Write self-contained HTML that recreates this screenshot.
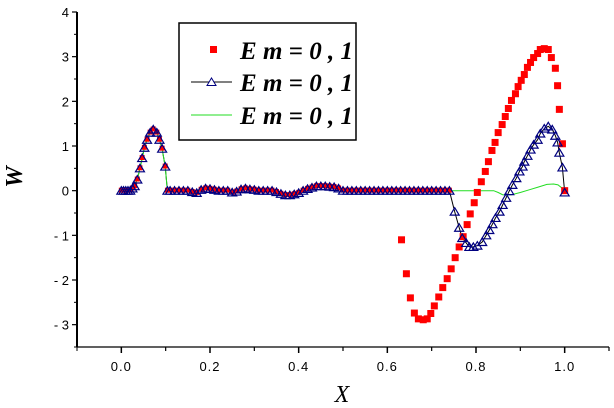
<!DOCTYPE html>
<html><head><meta charset="utf-8">
<style>
html,body{margin:0;padding:0;background:#fff;}
svg{display:block;}
.tk{font-family:"Liberation Sans",sans-serif;font-size:13px;fill:#000;}
.lg{font-family:"Liberation Serif",serif;font-style:italic;font-weight:bold;font-size:25px;fill:#000;}
</style></head>
<body>
<svg id="chart" width="614" height="408" viewBox="0 0 614 408" xmlns="http://www.w3.org/2000/svg">
<g id="axes"></g>
<g id="series"></g>
<g id="legend">
  <rect x="179" y="23" width="177" height="117" fill="#fff" stroke="#000" stroke-width="1.5"/>
  <rect x="210" y="46" width="7" height="7" fill="#ff0000"/>
  <text class="lg" x="240" y="59" textLength="113">E m = 0 , 1</text>
  <line x1="191" y1="82" x2="232" y2="82" stroke="#000" stroke-width="1"/>
  <polygon points="207,85.5 211.5,78 216,85.5" fill="#fff" stroke="#000080" stroke-width="1"/>
  <text class="lg" x="240" y="91" textLength="113">E m = 0 , 1</text>
  <line x1="191" y1="115" x2="232" y2="115" stroke="#22dd22" stroke-width="1"/>
  <text class="lg" x="240" y="124" textLength="113">E m = 0 , 1</text>
</g>
<text x="342" y="402" font-family="Liberation Serif,serif" font-style="italic" font-size="24" text-anchor="middle">X</text>
<text transform="translate(22,177) rotate(-90)" font-family="Liberation Serif,serif" font-style="italic" font-weight="bold" font-size="24" text-anchor="middle">W</text>
</svg>
<script>
const xTicks=[0.0,0.2,0.4,0.6,0.8,1.0];
const xTickLabels=["0.0","0.2","0.4","0.6","0.8","1.0"];
const yTicks=[4,3,2,1,0,-1,-2,-3];
const yTickLabels=["4","3","2","1","0","- 1","- 2","- 3"];
const sharedX=[0,0.005,0.01,0.015,0.02,0.025,0.03,0.036,0.042,0.047,0.052,0.058,0.065,0.072,0.08,0.086,0.092,0.099,0.104,0.11,0.12,0.13,0.14,0.15,0.16,0.17,0.18,0.19,0.2,0.21,0.22,0.23,0.24,0.25,0.26,0.27,0.28,0.29,0.3,0.31,0.32,0.33,0.34,0.35,0.36,0.37,0.38,0.39,0.4,0.41,0.42,0.43,0.44,0.45,0.46,0.47,0.48,0.49,0.5,0.51,0.52,0.53,0.54,0.55,0.56,0.57,0.58,0.59,0.6,0.61,0.62,0.63,0.64,0.65,0.66,0.67,0.68,0.69,0.7,0.71,0.72,0.73,0.74];
const sharedY=[0,0,0,0,0,0.05,0.1,0.25,0.5,0.73,0.96,1.14,1.3,1.37,1.3,1.14,0.94,0.54,0,0,0,0,0,0,-0.03,-0.05,0.02,0.05,0.04,0.02,0,0,0,-0.04,-0.02,0.03,0.05,0.03,0.02,0,0,0,0,-0.03,-0.07,-0.1,-0.1,-0.08,-0.05,0,0.04,0.07,0.1,0.1,0.1,0.09,0.08,0.05,0,0,0,0,0,0,0,0,0,0,0,0,0,0,0,0,0,0,0,0,0,0,0,0,0];
const redX=[0.632,0.643,0.652,0.661,0.67,0.681,0.69,0.698,0.706,0.716,0.725,0.735,0.744,0.753,0.762,0.771,0.78,0.787,0.796,0.803,0.812,0.821,0.828,0.836,0.843,0.85,0.859,0.866,0.873,0.88,0.889,0.895,0.902,0.909,0.916,0.923,0.93,0.939,0.945,0.954,0.963,0.97,0.979,0.984,0.988,0.995,1.0];
const redY=[-1.1,-1.86,-2.4,-2.74,-2.87,-2.89,-2.87,-2.75,-2.58,-2.38,-2.17,-1.97,-1.75,-1.5,-1.26,-1.03,-0.76,-0.52,-0.27,-0.04,0.2,0.43,0.65,0.9,1.08,1.3,1.48,1.66,1.84,2.02,2.17,2.33,2.47,2.6,2.76,2.87,2.98,3.07,3.16,3.18,3.16,2.98,2.74,2.35,1.82,1.05,0];
const blueX=[0.752,0.762,0.769,0.778,0.785,0.794,0.803,0.814,0.823,0.83,0.837,0.844,0.853,0.86,0.868,0.875,0.882,0.891,0.898,0.905,0.909,0.916,0.923,0.93,0.939,0.945,0.954,0.963,0.972,0.979,0.984,0.988,0.995,1.0];
const blueY=[-0.47,-0.83,-1.06,-1.17,-1.26,-1.26,-1.23,-1.15,-1.0,-0.88,-0.75,-0.61,-0.47,-0.32,-0.16,-0.01,0.13,0.28,0.43,0.54,0.65,0.78,0.92,1.03,1.14,1.28,1.39,1.44,1.37,1.23,1.08,0.85,0.52,-0.04];
const greenX=[0.75,0.8,0.84,0.85,0.86,0.87,0.88,0.9,0.92,0.94,0.96,0.975,0.985,0.995,1.0];
const greenY=[0,0,0,-0.04,-0.09,-0.1,-0.09,-0.04,0.02,0.08,0.14,0.15,0.13,0.05,0];

const X0=77,X1=609,Y0=347,Y1=12;
const xmin=-0.1,xmax=1.1,ymin=-3.5,ymax=4;
const sx=v=>X0+(v-xmin)/(xmax-xmin)*(X1-X0);
const sy=v=>Y0-(v-ymin)/(ymax-ymin)*(Y0-Y1);
const NS="http://www.w3.org/2000/svg";
function mk(tag,attrs,parent){const e=document.createElementNS(NS,tag);for(const k in attrs)e.setAttribute(k,attrs[k]);parent.appendChild(e);return e;}
const axes=document.getElementById('axes'),ser=document.getElementById('series');

let e=mk('line',{x1:X0,y1:Y1,x2:X0,y2:Y0,stroke:'#000','stroke-width':2},axes);


e=mk('line',{x1:X0,y1:Y0,x2:X1,y2:Y0,stroke:'#000','stroke-width':1.2},axes);


yTicks.forEach((v,i)=>{
  const y=sy(v);
  let t=mk('line',{x1:X0-5,y1:y,x2:X0,y2:y,stroke:'#000','stroke-width':1.2},axes);
  
  
  const m=sy(v-0.5);
  t=mk('line',{x1:X0-3,y1:m,x2:X0,y2:m,stroke:'#000','stroke-width':1},axes);
  
  
  const tx=mk('text',{x:X0-8,y:y+5,'text-anchor':'end',class:'tk'},axes);
  tx.textContent=yTickLabels[i];
  
  
});
xTicks.forEach((v,i)=>{
  const x=sx(v);
  let t=mk('line',{x1:x,y1:Y0,x2:x,y2:Y0+6,stroke:'#000','stroke-width':1.5},axes);
  
  
  const m=sx(v+0.1);
  t=mk('line',{x1:m,y1:Y0,x2:m,y2:Y0+4,stroke:'#000','stroke-width':1.2},axes);
  
  
  const tx=mk('text',{x:x,y:Y0+24,'text-anchor':'middle',class:'tk','letter-spacing':'1'},axes);
  tx.textContent=xTickLabels[i];
  
  
});
const mt=sx(-0.1);
e=mk('line',{x1:mt,y1:Y0,x2:mt,y2:Y0+4,stroke:'#000'},axes);



const pts=(xs,ys)=>xs.map((x,i)=>sx(x).toFixed(1)+','+sy(ys[i]).toFixed(1)).join(' ');
const bX=sharedX.concat(blueX),bY=sharedY.concat(blueY);
e=mk('polyline',{points:pts(bX,bY),fill:'none',stroke:'#000','stroke-width':1},ser);


const gX=sharedX.concat(greenX),gY=sharedY.concat(greenY);
e=mk('polyline',{points:pts(gX,gY),fill:'none',stroke:'#22dd22','stroke-width':1},ser);


sharedX.forEach((x,i)=>{
  const r=mk('rect',{x:sx(x)-2.5,y:sy(sharedY[i])-3,width:5,height:5,fill:'#ff0000'},ser);
  
  
});
redX.forEach((x,i)=>{
  const r=mk('rect',{x:sx(x)-3.5,y:sy(redY[i])-3.5,width:7,height:7,fill:'#ff0000'},ser);
  
  
});
bX.forEach((x,i)=>{
  const cx=sx(x),cy=sy(bY[i]);
  const p=mk('polygon',{points:`${cx-4.5},${cy+3.5} ${cx},${cy-4} ${cx+4.5},${cy+3.5}`,fill:'none',stroke:'#000080','stroke-width':1.2},ser);
  
  
});
</script>
</body></html>
